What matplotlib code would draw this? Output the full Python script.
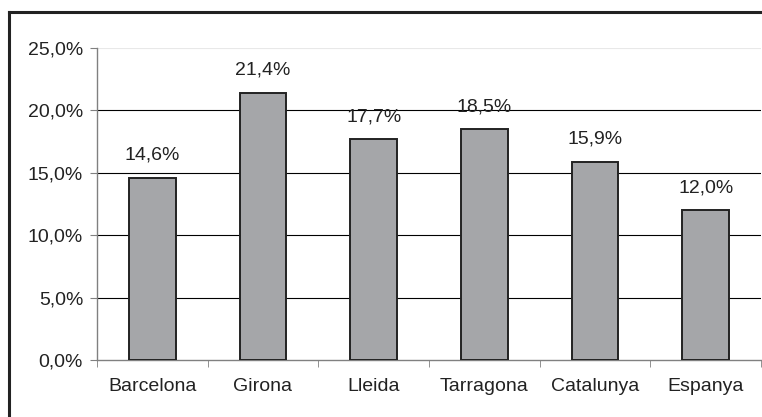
import matplotlib
matplotlib.use("Agg")
import matplotlib.pyplot as plt
from matplotlib.lines import Line2D
import numpy as np

categories = ["Barcelona", "Girona", "Lleida", "Tarragona", "Catalunya", "Espanya"]
values = [14.6, 21.4, 17.7, 18.5, 15.9, 12.0]
yticks = [0, 5, 10, 15, 20, 25]

plt.rcParams['font.family'] = ['Liberation Sans', 'DejaVu Sans']

W, H = 762, 417
FS = 14
fig = plt.figure(figsize=(W / 100, H / 100), dpi=100)
ax = fig.add_axes([97 / W, 1 - 360 / H, (761 - 97) / W, (360 - 48) / H])

x = np.arange(len(categories))
ax.bar(x, values, width=0.42, color="#A5A6A9", edgecolor="#222222", linewidth=1.4, zorder=3)

ax.set_xlim(-0.5, len(categories) - 0.5)
ax.set_ylim(0, 25)

for yv in yticks[1:]:
    ax.axhline(yv, color="#000000" if yv < 25 else "#e8e8e8", linewidth=0.8, zorder=1)

ax.set_yticks(yticks)
ax.set_yticklabels([f"{v:.1f}%".replace(".", ",") for v in yticks], fontsize=FS, color="#222222")
ax.set_xticks(x)
ax.set_xticklabels(categories, fontsize=FS, color="#222222")
ax.set_xticks(np.arange(len(categories) + 1) - 0.5, minor=True)
ax.tick_params(axis="x", which="major", length=0, pad=13)
ax.tick_params(axis="x", which="minor", length=5, color="#808080", direction="out")
ax.tick_params(axis="y", length=5, color="#808080", pad=5, direction="out")

for s in ["top", "right"]:
    ax.spines[s].set_visible(False)
for s in ["left", "bottom"]:
    ax.spines[s].set_color("#808080")
    ax.spines[s].set_linewidth(1.0)

for xi, v in zip(x, values):
    ax.annotate(f"{v:.1f}%".replace(".", ","), (xi, v), xytext=(0, 13), textcoords="offset points",
                ha="center", va="baseline", fontsize=FS, color="#222222")

# outer frame (cut on right/bottom)
fig.add_artist(Line2D([9 / W, 9 / W], [1 - 11.5 / H, -0.1], transform=fig.transFigure, color="#222222", linewidth=2.2))
fig.add_artist(Line2D([9 / W, 1.1], [1 - 11.5 / H, 1 - 11.5 / H], transform=fig.transFigure, color="#222222", linewidth=2.2))

fig.savefig("out.png", dpi=100)
